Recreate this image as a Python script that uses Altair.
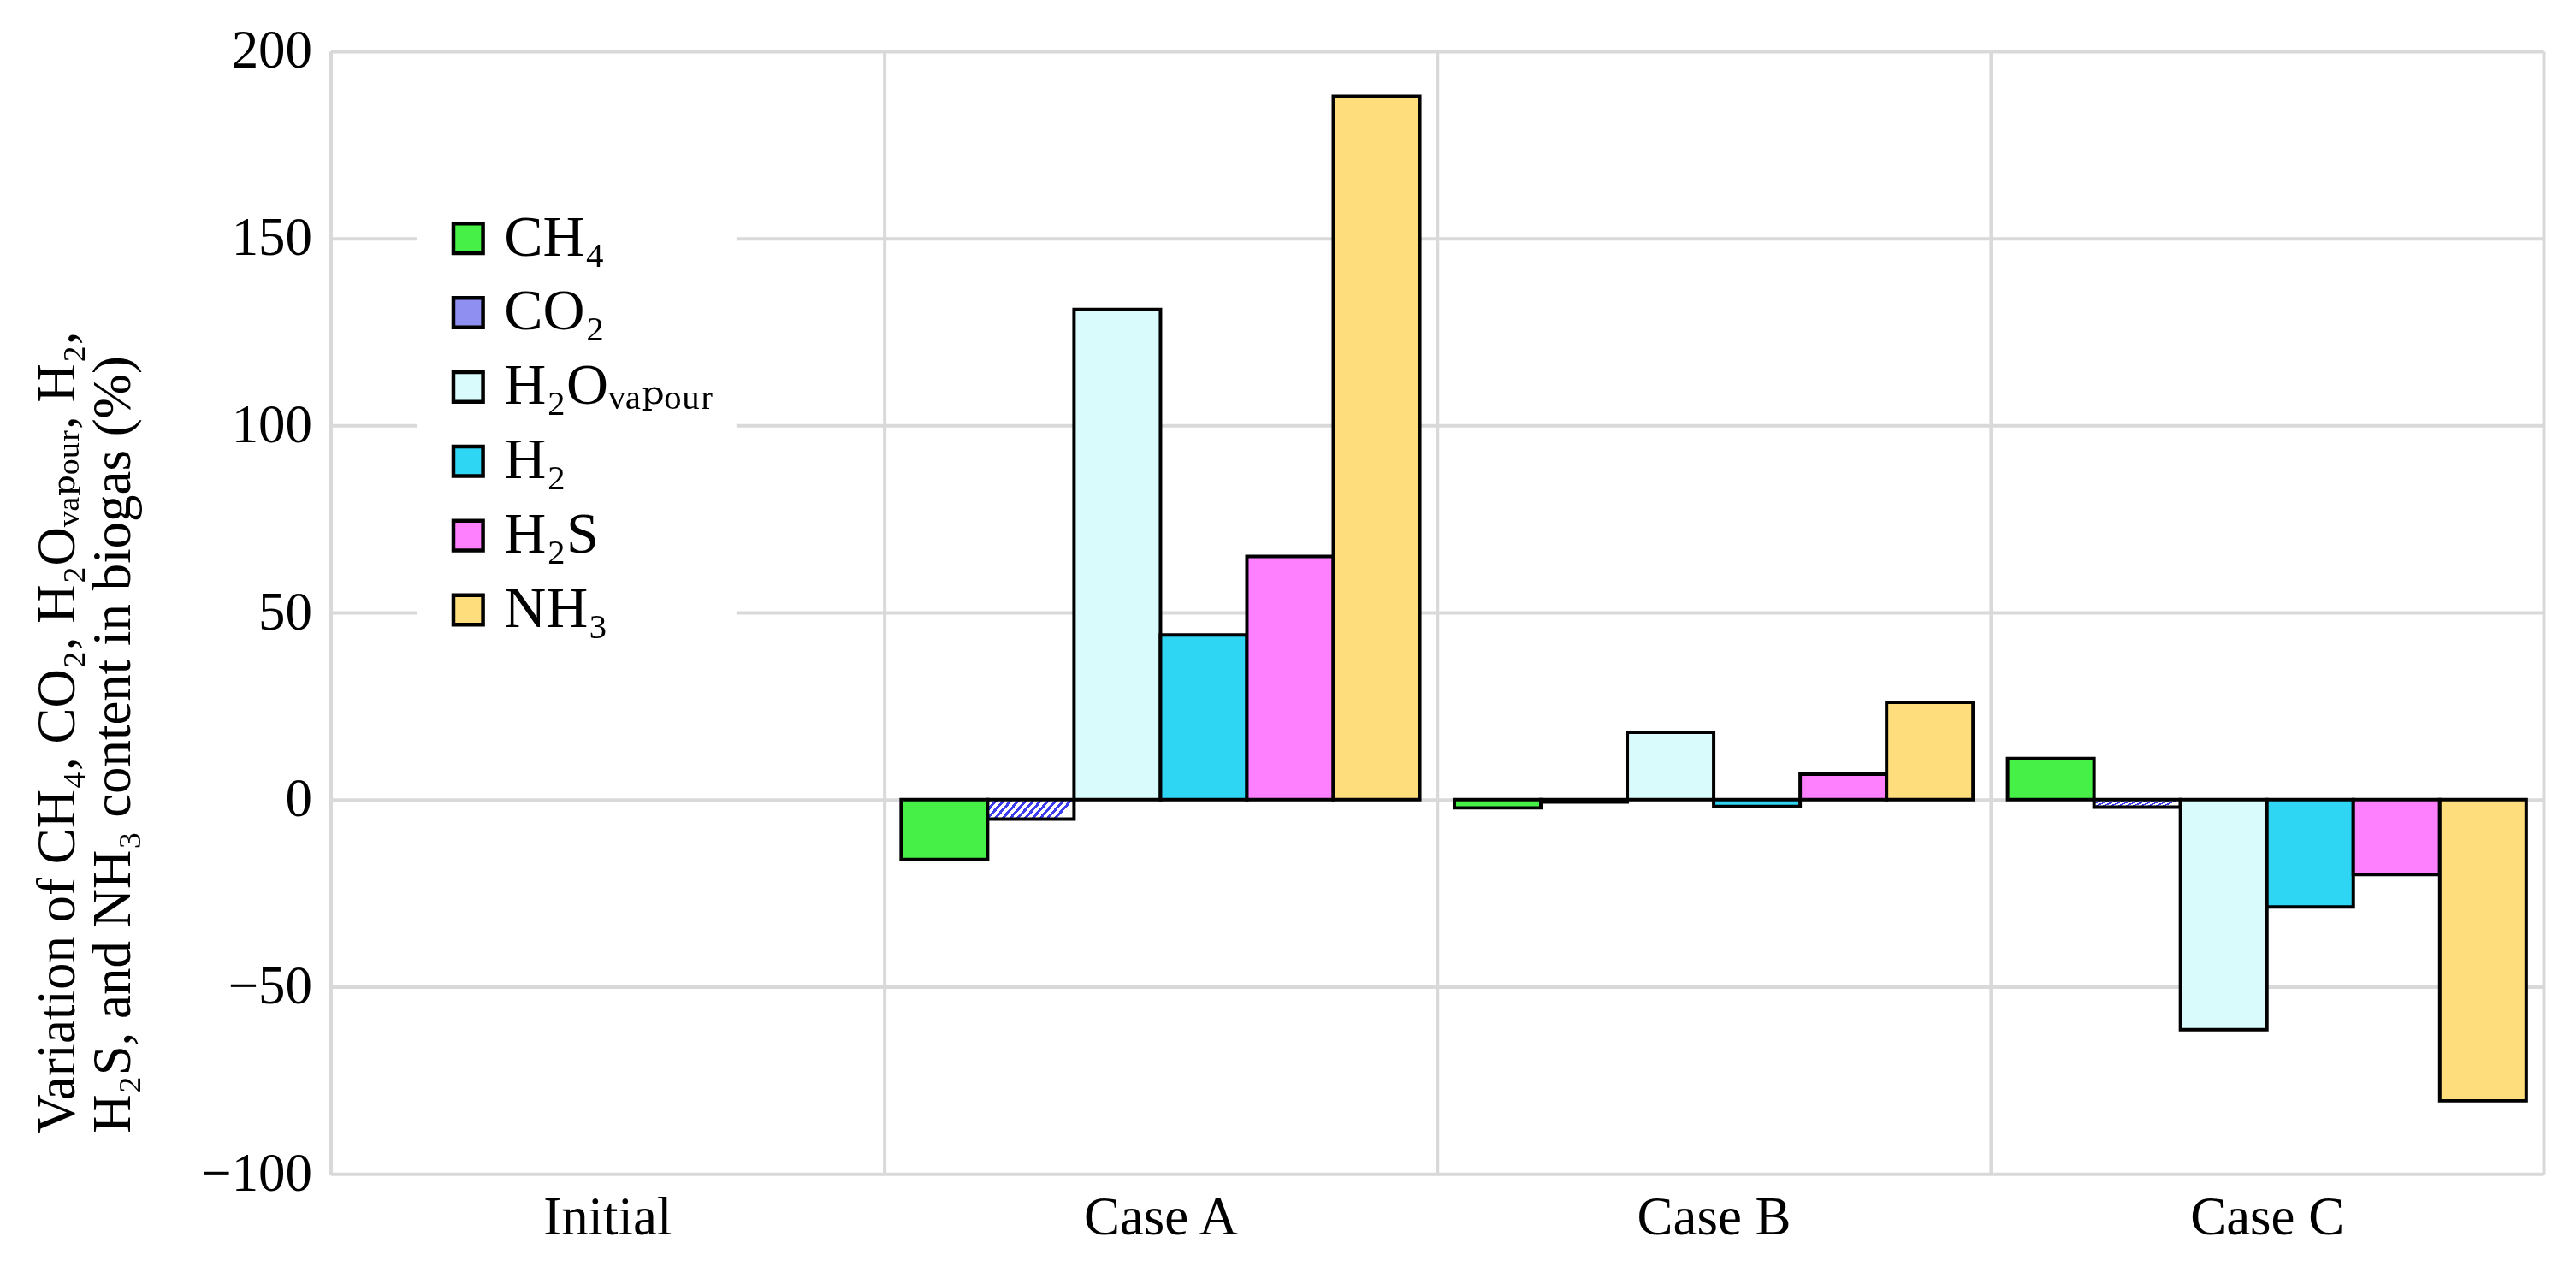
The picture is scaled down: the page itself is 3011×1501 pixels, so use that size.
import altair as alt
import pandas as pd

cases = ["Initial", "Case A", "Case B", "Case C"]
gases = ["CH₄", "CO₂", "H₂Oᵥₐₚₒᵤᵣ", "H₂", "H₂S", "NH₃"]
colors = ["#46f046", "#8f8ff2", "#d9fbfb", "#2fd6f4", "#ff80ff", "#fedd7c"]

ch4 = [0, -16, -2.2, 11]
co2 = [0, -5.2, -0.6, -2.0]
h2o = [0, 131, 18, -61.5]
h2 = [0, 44, -1.8, -28.7]
h2s = [0, 65, 6.8, -20]
nh3 = [0, 188, 26, -80.5]

series = [ch4, co2, h2o, h2, h2s, nh3]
rows = []
for g, vals in zip(gases, series):
    for c, v in zip(cases, vals):
        rows.append({"case": c, "gas": g, "value": v})
df = pd.DataFrame(rows)

FONT = "Liberation Serif, DejaVu Serif, Times New Roman, serif"


def stripes(n, x2, y2, blue="#3c3cf0"):
    stops = []
    for i in range(n):
        a = i / n
        b = (i + 0.45) / n
        c = (i + 1) / n
        stops += [
            {"offset": a, "color": blue},
            {"offset": b, "color": blue},
            {"offset": b, "color": "#ffffff"},
            {"offset": c, "color": "#ffffff"},
        ]
    return {"gradient": "linear", "x1": 0, "y1": 0, "x2": x2, "y2": y2, "stops": stops}


bar_hatch = stripes(12, 1, 0.2)

legend = alt.Legend(
    title=None,
    orient="none",
    legendX=101,
    legendY=159,
    padding=26,
    fillColor="white",
    labelFont=FONT,
    labelFontSize=68,
    labelColor="black",
    labelLimit=800,
    symbolType="square",
    symbolSize=1200,
    symbolStrokeWidth=4.5,
    symbolStrokeColor="black",
    symbolOpacity=1,
    rowPadding=19,
    labelOffset=8,
)

fill_field = alt.Fill(
    "gas:N",
    sort=gases,
    scale=alt.Scale(domain=gases, range=colors),
    legend=legend,
)

chart = (
    alt.Chart(df)
    .transform_filter("datum.value != 0")
    .mark_bar(stroke="black", strokeWidth=4, opacity=1)
    .encode(
        x=alt.X(
            "case:N",
            sort=cases,
            scale=alt.Scale(domain=cases, paddingInner=0, paddingOuter=0),
            axis=alt.Axis(
                title=None,
                labelAngle=0,
                labelFont=FONT,
                labelFontSize=63,
                labelColor="black",
                labelLimit=600,
                labelPadding=20,
                ticks=False,
                domain=False,
                grid=True,
                tickBand="extent",
                gridColor="#d9d9d9",
                gridWidth=4,
            ),
        ),
        xOffset=alt.XOffset(
            "gas:N",
            sort=gases,
            scale=alt.Scale(domain=gases, paddingInner=0, paddingOuter=0.2),
        ),
        y=alt.Y(
            "value:Q",
            scale=alt.Scale(domain=[-100, 200], nice=False, zero=False),
            axis=alt.Axis(
                values=[-100, -50, 0, 50, 100, 150, 200],
                title=[
                    "Variation of CH₄, CO₂, H₂Oᵥₐₚₒᵤᵣ, H₂,",
                    "H₂S, and NH₃ content in biogas (%)",
                ],
                titleFont=FONT,
                titleFontSize=63,
                titleFontWeight="normal",
                titleColor="black",
                titleAlign="left",
                titleX=-287,
                titleY=1266,
                titleLineHeight=65,
                labelFont=FONT,
                labelFontSize=63,
                labelColor="black",
                labelPadding=22,
                ticks=False,
                grid=True,
                gridColor="#d9d9d9",
                gridWidth=4,
                domainColor="#d9d9d9",
                domainWidth=4,
            ),
        ),
        fill=alt.condition("datum.gas === 'CO₂'", alt.value(bar_hatch), fill_field),
    )
    .properties(
        width=2590,
        height=1314,
        autosize=alt.AutoSizeParams(type="none"),
        padding={"left": 379, "top": 51, "right": 30, "bottom": 120},
    )
    .configure_view(stroke=None)
    .configure(background="white")
)

chart.save("out.html", embed_options={"renderer": "svg", "actions": False})
